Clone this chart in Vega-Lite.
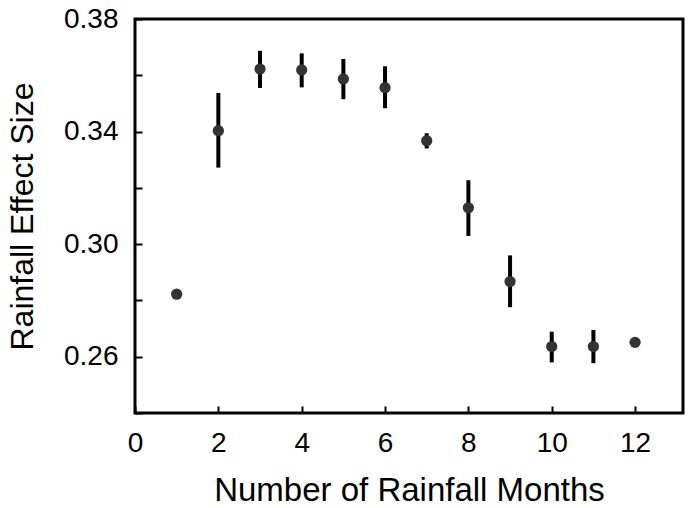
{
  "$schema": "https://vega.github.io/schema/vega-lite/v6.json",
  "autosize": {"type": "none"},
  "padding": {"left": 135, "top": 19, "right": 10, "bottom": 95},
  "width": 548,
  "height": 394,
  "background": "white",
  "config": {
    "view": {"stroke": "black", "strokeWidth": 3}
  },
  "data": {"values": [
    {"m": 1, "v": 0.2822, "lo": null, "hi": null},
    {"m": 2, "v": 0.3403, "lo": 0.3272, "hi": 0.3537},
    {"m": 3, "v": 0.3622, "lo": 0.3555, "hi": 0.3687},
    {"m": 4, "v": 0.3619, "lo": 0.3557, "hi": 0.3678},
    {"m": 5, "v": 0.3587, "lo": 0.3515, "hi": 0.3658},
    {"m": 6, "v": 0.3556, "lo": 0.3483, "hi": 0.3632},
    {"m": 7, "v": 0.3367, "lo": 0.3340, "hi": 0.3394},
    {"m": 8, "v": 0.3129, "lo": 0.3029, "hi": 0.3227},
    {"m": 9, "v": 0.2867, "lo": 0.2776, "hi": 0.2960},
    {"m": 10, "v": 0.2636, "lo": 0.2580, "hi": 0.2689},
    {"m": 11, "v": 0.2636, "lo": 0.2577, "hi": 0.2695},
    {"m": 12, "v": 0.2651, "lo": null, "hi": null}
  ]},
  "layer": [
    {
      "transform": [{"filter": "datum.lo != null"}],
      "mark": {"type": "rule", "color": "black", "strokeWidth": 4},
      "encoding": {
        "x": {"field": "m", "type": "quantitative"},
        "y": {"field": "lo", "type": "quantitative"},
        "y2": {"field": "hi"}
      }
    },
    {
      "mark": {"type": "circle", "color": "#333333", "opacity": 1, "size": 127},
      "encoding": {
        "x": {"field": "m", "type": "quantitative", "scale": {"domain": [0, 13.15], "nice": false, "zero": false},
          "axis": {"title": "Number of Rainfall Months", "values": [0, 2, 4, 6, 8, 10, 12], "format": "d", "grid": false, "domain": false,
            "tickSize": -7, "tickWidth": 2, "tickColor": "black", "labelFlush": false,
            "labelFont": "Liberation Sans", "labelFontSize": 28, "labelColor": "black", "labelBaseline": "alphabetic", "labelPadding": 45,
            "titleFont": "Liberation Sans", "titleFontSize": 33, "titleFontWeight": "normal", "titleColor": "black",
            "titleBaseline": "alphabetic", "titleY": 87}},
        "y": {"field": "v", "type": "quantitative", "scale": {"domain": [0.24, 0.38], "nice": false, "zero": false},
          "axis": {"title": "Rainfall Effect Size", "values": [0.24, 0.26, 0.28, 0.30, 0.32, 0.34, 0.36, 0.38], "format": ".2f",
            "labelExpr": "round(datum.value*100) % 4 == 2 ? datum.label : ''", "grid": false, "domain": false,
            "tickSize": -7, "tickWidth": 2, "tickColor": "black", "labelFlush": false,
            "labelFont": "Liberation Sans", "labelFontSize": 28, "labelColor": "black", "labelPadding": 24,
            "titleFont": "Liberation Sans", "titleFontSize": 32, "titleFontWeight": "normal", "titleColor": "black",
            "titleBaseline": "alphabetic", "titleX": -103}}
      }
    }
  ]
}
